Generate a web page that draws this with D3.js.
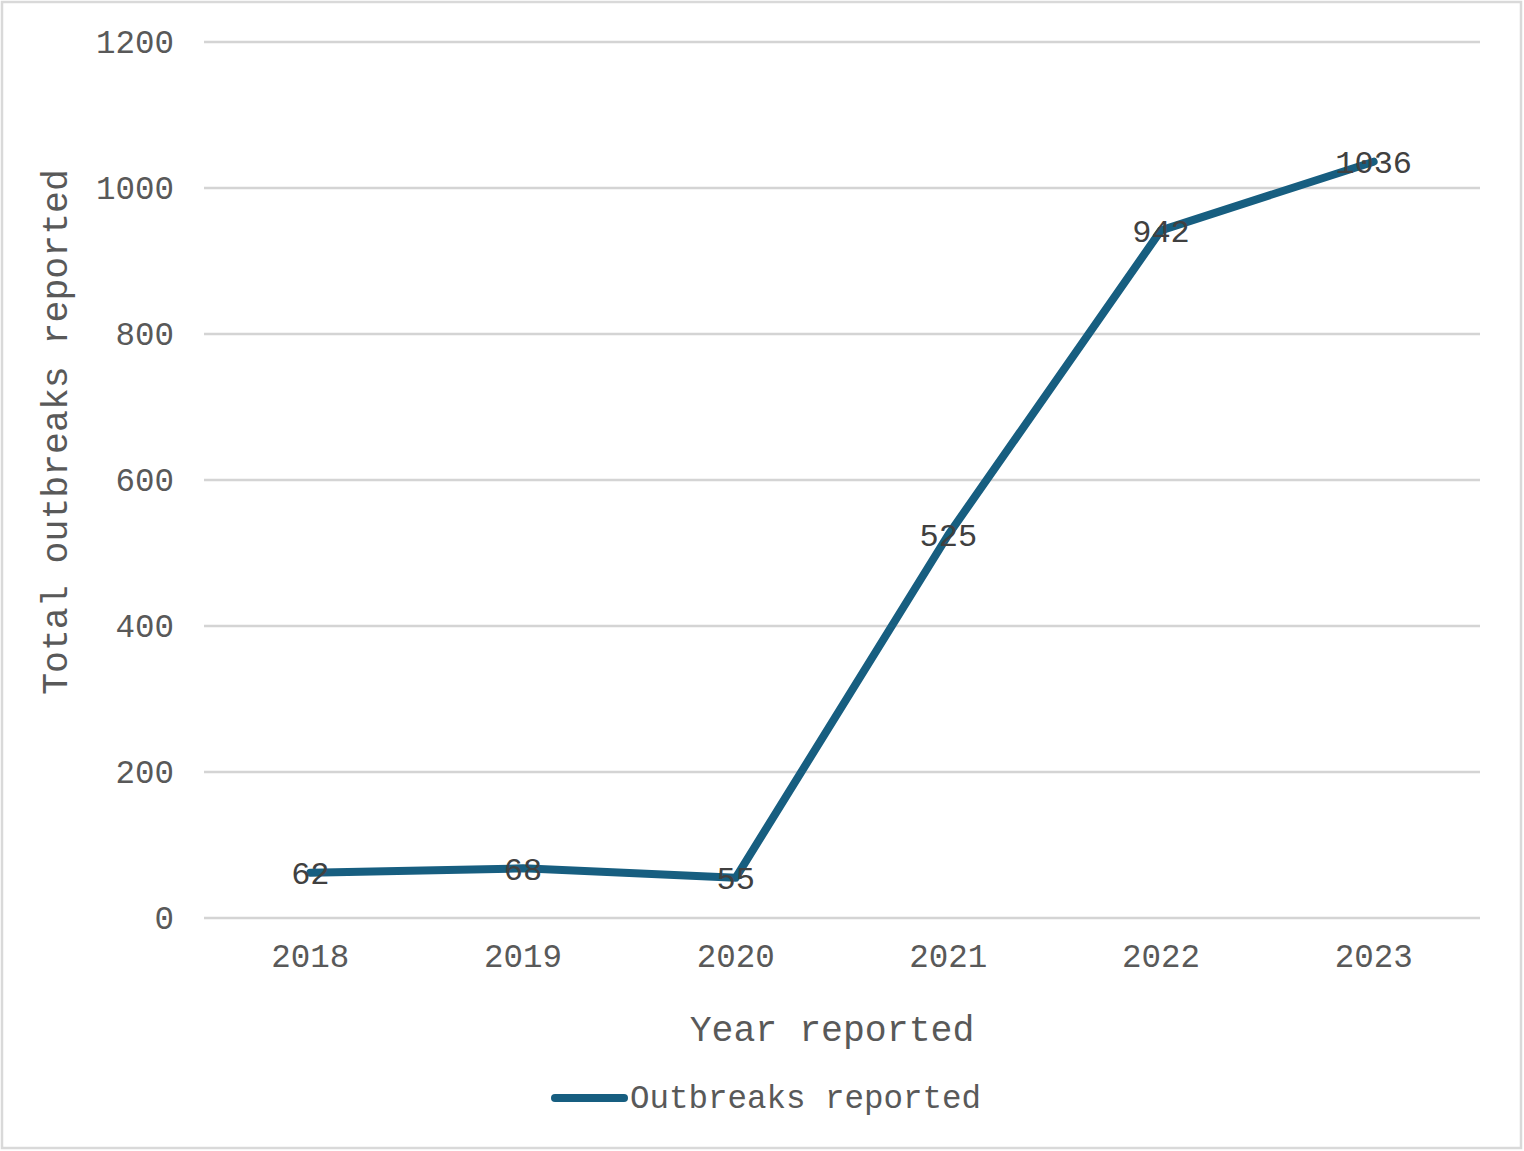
<!DOCTYPE html>
<html><head><meta charset="utf-8">
<script src="https://cdn.jsdelivr.net/npm/d3@7"></script>
<style>
html,body{margin:0;padding:0;background:#fff;}
text{font-family:"Courier New","Liberation Mono",monospace;}
</style></head>
<body>
<svg id="chart" width="1524" height="1151"></svg>
<script>
const years = ["2018","2019","2020","2021","2022","2023"];
const outbreaks = [62, 68, 55, 525, 942, 1036];
const yTicks = [0, 200, 400, 600, 800, 1000, 1200];
const seriesName = "Outbreaks reported";
const xTitle = "Year reported";
const yTitle = "Total outbreaks reported";

(function () {
const svg = d3.select("#chart");
const lineColor = "#175e80";
const pLeft = 204, pRight = 1480, pTop = 42, pBottom = 918;
const ff = '"Courier New","Liberation Mono",monospace';

svg.append("rect").attr("x", 2).attr("y", 2).attr("width", 1519).attr("height", 1146)
  .attr("fill", "#fff").attr("stroke", "#d9d9d9").attr("stroke-width", 2.5);

const x = d3.scaleBand().domain(years).range([pLeft, pRight]);
const y = d3.scaleLinear().domain([0, 1200]).range([pBottom, pTop]);

// gridlines
svg.append("g").selectAll("line").data(yTicks).join("line")
  .attr("x1", pLeft).attr("x2", pRight)
  .attr("y1", d => y(d)).attr("y2", d => y(d))
  .attr("stroke", "#d4d4d4").attr("stroke-width", 2.5);

// y axis labels
const yAxis = d3.axisLeft(y).tickValues(yTicks).tickFormat(d3.format("d")).tickSize(0).tickPadding(30);
const gy = svg.append("g").attr("transform", `translate(${pLeft},0)`).call(yAxis);
gy.select(".domain").remove();
gy.selectAll("text").attr("fill", "#595959").style("font-size", "32.5px").style("font-family", ff);

// x axis labels
const xAxis = d3.axisBottom(x).tickSize(0).tickPadding(26);
const gx = svg.append("g").attr("transform", `translate(0,${pBottom})`).call(xAxis);
gx.select(".domain").remove();
gx.selectAll("text").attr("fill", "#595959").style("font-size", "32.5px").style("font-family", ff);

// line
const cx = d => x(d) + x.bandwidth() / 2;
const line = d3.line().x((d, i) => cx(years[i])).y(d => y(d));
svg.append("path").datum(outbreaks).attr("d", line)
  .attr("fill", "none").attr("stroke", lineColor).attr("stroke-width", 8)
  .attr("stroke-linejoin", "round").attr("stroke-linecap", "round");

// data labels
svg.append("g").selectAll("text").data(outbreaks).join("text")
  .attr("x", (d, i) => cx(years[i]))
  .attr("y", d => y(d))
  .attr("dy", "0.35em")
  .attr("text-anchor", "middle")
  .attr("fill", "#404040").style("font-size", "32px")
  .text(d => d);

// axis titles
svg.append("text").attr("x", 832).attr("y", 1041)
  .attr("text-anchor", "middle").attr("fill", "#595959").style("font-size", "36.5px").text(xTitle);
svg.append("text").attr("transform", `translate(67,432) rotate(-90)`)
  .attr("text-anchor", "middle").attr("fill", "#595959").style("font-size", "36.5px").text(yTitle);

// legend
svg.append("line").attr("x1", 555).attr("x2", 624).attr("y1", 1098).attr("y2", 1098)
  .attr("stroke", lineColor).attr("stroke-width", 8).attr("stroke-linecap", "round");
svg.append("text").attr("x", 630).attr("y", 1108).attr("fill", "#595959")
  .style("font-size", "32.5px").text(seriesName);
})();
</script>
</body></html>
